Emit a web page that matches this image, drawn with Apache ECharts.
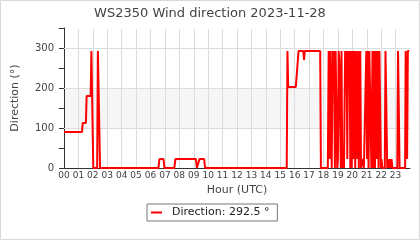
<!DOCTYPE html>
<html><head><meta charset="utf-8">
<script src="https://cdn.jsdelivr.net/npm/echarts@6/dist/echarts.min.js"></script>
<style>html,body{margin:0;padding:0;background:#fff}#c{width:420px;height:240px}</style>
</head><body><div id="c"></div>
<script>
const titleText = 'WS2350 Wind direction 2023-11-28';
const seriesName = 'Direction';
const unit = '°';
const xName = 'Hour (UTC)';
const yName = 'Direction (°)';
const bandRange = [100, 200];
const yGridValues = [100, 200, 300];
const xGridValues = [1, 2, 3, 4, 5, 6, 7, 8, 9, 10, 11, 12, 13, 14, 15, 16, 17, 18, 19, 20, 21, 22, 23];
// sample time (hours UTC)
const hours = [
 0, 1.25, 1.3, 1.52, 1.57, 1.85, 1.9, 1.95, 2.03, 2.3, 2.35, 2.43, 2.5,
 6.55, 6.62, 6.9, 6.97, 7.65, 7.73, 9.15, 9.22, 9.32, 9.4, 9.72, 9.79,
 15.45, 15.5, 15.55, 16.08, 16.27, 16.6, 16.65, 16.7, 17.77, 17.82,
 18.3, 18.36, 18.42, 18.47, 18.52, 18.57, 18.63, 18.68, 18.73, 18.79, 18.84, 18.9, 18.95,
 19.0, 19.05, 19.1, 19.15, 19.2, 19.25, 19.3, 19.35, 19.42, 19.5, 19.55, 19.6, 19.65, 19.7,
 19.76, 19.81, 19.86, 19.91, 19.96, 20.02, 20.07, 20.14, 20.2, 20.25, 20.3, 20.35, 20.4,
 20.45, 20.5, 20.55, 20.6, 20.7, 20.8, 20.9, 20.97, 21.02, 21.08, 21.13, 21.18, 21.22,
 21.27, 21.32, 21.4, 21.45, 21.52, 21.57, 21.63, 21.7, 21.76, 21.82, 21.88, 21.93, 21.98,
 22.02, 22.08, 22.25, 22.3, 22.37, 22.42, 22.48, 22.53, 22.6, 22.66, 22.72, 22.78,
 23.12, 23.17, 23.24, 23.28, 23.66, 23.7, 23.75, 23.8, 23.85, 23.9, 23.95
];
// wind direction (degrees)
const dirs = [
 90, 90, 112.5, 112.5, 180, 180, 292.5, 292.5, 0, 0, 292.5, 292.5, 0,
 0, 22.5, 22.5, 0, 0, 22.5, 22.5, 0, 0, 22.5, 22.5, 0,
 0, 292.5, 202.5, 202.5, 292.5, 292.5, 270, 292.5, 292.5, 0,
 0, 292.5, 22.5, 292.5, 292.5, 0, 292.5, 270, 292.5, 0, 292.5, 292.5, 0,
 22.5, 292.5, 270, 270, 0, 292.5, 0, 22.5, 0, 292.5, 270, 292.5, 22.5, 292.5,
 202.5, 292.5, 0, 292.5, 0, 292.5, 22.5, 292.5, 0, 292.5, 292.5, 22.5, 292.5,
 0, 270, 292.5, 0, 22.5, 0, 0, 292.5, 22.5, 292.5, 0, 292.5, 292.5,
 112.5, 0, 292.5, 0, 292.5, 0, 292.5, 22.5, 292.5, 0, 292.5, 292.5, 0,
 22.5, 0, 0, 292.5, 292.5, 0, 22.5, 0, 22.5, 0, 22.5, 0,
 0, 292.5, 292.5, 0, 0, 292.5, 292.5, 22.5, 292.5, 292.5, 292.5
];
const lastVal = dirs[dirs.length - 1];
const pts = hours.map((h, i) => [h, dirs[i]]);
const font = 'DejaVu Sans';
const gridLines = yGridValues.map(v => ({yAxis: v})).concat(xGridValues.map(v => ({xAxis: v})));
const chart = echarts.init(document.getElementById('c'), null, {renderer: 'canvas'});
chart.setOption({
  animation: false,
  backgroundColor: '#fff',
  graphic: [
    {type: 'rect', shape: {x: 0.5, y: 0.5, width: 419, height: 239},
      style: {fill: 'none', stroke: '#d9d9d9', lineWidth: 1}, silent: true, z: -1},
    {type: 'rect', shape: {x: 65, y: 26, width: 347, height: 3},
      style: {fill: '#fff', stroke: 'none'}, silent: true, z: 100}
  ],
  title: {text: titleText, left: 'center', top: 2,
    textStyle: {fontFamily: font, fontSize: 13, fontWeight: 'normal', color: '#444'}},
  grid: {left: 64, right: 10, top: 28, bottom: 72},
  legend: {left: 147, top: 204, padding: [3, 8, 3, 4], borderColor: '#777', borderWidth: 1,
    itemWidth: 11, itemHeight: 2, icon: 'rect',
    formatter: n => n + ': ' + lastVal + ' ' + unit,
    textStyle: {fontFamily: font, fontSize: 11, color: '#222', padding: [0, 0, 0, 5]},
    data: [seriesName]},
  xAxis: {type: 'value', min: 0, max: 24, interval: 1,
    name: xName, nameLocation: 'middle', nameGap: 14,
    nameTextStyle: {fontFamily: font, fontSize: 11, color: '#444'},
    axisLine: {lineStyle: {color: '#333', width: 1}},
    axisTick: {show: false},
    axisLabel: {fontFamily: font, fontSize: 9, color: '#444', margin: 3,
      formatter: v => v < 24 ? String(v).padStart(2, '0') : ''},
    splitLine: {show: false}},
  yAxis: {type: 'value', min: 0, max: 350, interval: 50,
    name: yName, nameLocation: 'middle', nameGap: 43,
    nameTextStyle: {fontFamily: font, fontSize: 11, color: '#444'},
    axisLine: {show: true, lineStyle: {color: '#333', width: 1}},
    axisTick: {show: true, length: 5, lineStyle: {color: '#333'}},
    axisLabel: {fontFamily: font, fontSize: 10, color: '#444', margin: 10,
      formatter: v => v % 100 === 0 ? String(v) : ''},
    splitLine: {show: false}},
  series: [{name: seriesName, type: 'line', data: pts, showSymbol: false, z: 3,
    lineStyle: {color: '#ff0000', width: 2}, itemStyle: {color: '#ff0000'},
    markArea: {silent: true, itemStyle: {color: 'rgba(0,0,0,0.035)'},
      data: [[{yAxis: bandRange[0]}, {yAxis: bandRange[1]}]]},
    markLine: {silent: true, symbol: 'none', label: {show: false}, z: 1,
      lineStyle: {color: '#dcdcdc', width: 1, type: 'solid'}, emphasis: {disabled: true},
      data: gridLines}}]
});
</script></body></html>
